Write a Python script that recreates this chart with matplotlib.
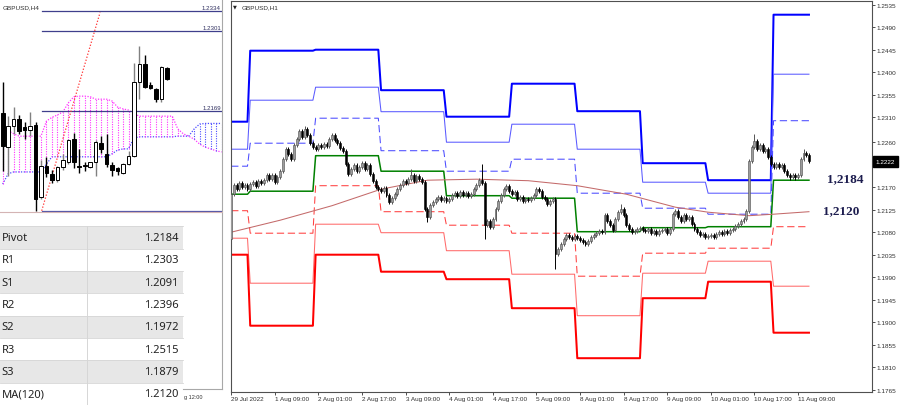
import matplotlib
matplotlib.use('Agg')
import matplotlib.pyplot as plt
import matplotlib.transforms as mtransforms
from matplotlib.patches import Rectangle
import numpy as np

# ---------------- data : GBPUSD H1 (main chart) ----------------
closes = [
    1.2156, 1.2174, 1.2166, 1.2178, 1.2170, 1.2174, 1.2166,
    1.2176, 1.2180, 1.2172, 1.2182, 1.2178, 1.2184, 1.2194, 1.2186, 1.2194, 1.2180,
    1.2190, 1.2202, 1.2226, 1.2246, 1.2236, 1.2226, 1.2254, 1.2266, 1.2282, 1.2270,
    1.2286, 1.2274, 1.2258, 1.2250,
    1.2246, 1.2254, 1.2250, 1.2256, 1.2252, 1.2266, 1.2274, 1.2264, 1.2258, 1.2248,
    1.2242, 1.2216, 1.2196, 1.2206, 1.2214, 1.2202, 1.2210, 1.2218, 1.2206, 1.2214,
    1.2196, 1.2182, 1.2170, 1.2166,
    1.2162, 1.2168, 1.2154, 1.2140, 1.2148, 1.2156, 1.2166, 1.2174, 1.2182, 1.2178,
    1.2186, 1.2194, 1.2182, 1.2192, 1.2186, 1.2180, 1.2126, 1.2110, 1.2134, 1.2140,
    1.2146, 1.2150, 1.2144, 1.2148,
    1.2142, 1.2146, 1.2154, 1.2158, 1.2152, 1.2160, 1.2154, 1.2158, 1.2152, 1.2156,
    1.2166, 1.2174, 1.2184, 1.2178, 1.2094, 1.2102, 1.2090, 1.2106, 1.2126, 1.2142,
    1.2154, 1.2166, 1.2172, 1.2162,
    1.2156, 1.2160, 1.2146, 1.2150, 1.2142, 1.2146, 1.2144, 1.2148, 1.2154, 1.2166,
    1.2162, 1.2150, 1.2146, 1.2136, 1.2142, 1.2146, 1.2036, 1.2046, 1.2056, 1.2066,
    1.2074, 1.2070, 1.2066, 1.2072,
    1.2068, 1.2064, 1.2060, 1.2056, 1.2062, 1.2070, 1.2074, 1.2078, 1.2082, 1.2080,
    1.2114, 1.2102, 1.2094, 1.2084, 1.2106, 1.2120, 1.2126, 1.2114, 1.2094, 1.2086,
    1.2080, 1.2082, 1.2086, 1.2088,
    1.2084, 1.2082, 1.2086, 1.2078, 1.2082, 1.2076, 1.2082, 1.2084, 1.2086, 1.2078,
    1.2086, 1.2116, 1.2122, 1.2110, 1.2102, 1.2114, 1.2106, 1.2110, 1.2096, 1.2086,
    1.2080, 1.2074, 1.2076, 1.2070,
    1.2072, 1.2074, 1.2070, 1.2076, 1.2080, 1.2076, 1.2082, 1.2078, 1.2084, 1.2086,
    1.2092, 1.2096, 1.2102, 1.2106, 1.2122, 1.2222, 1.2250, 1.2262, 1.2246, 1.2254,
    1.2242, 1.2246, 1.2230, 1.2216,
    1.2210, 1.2216, 1.2210, 1.2214, 1.2202, 1.2194, 1.2190, 1.2194, 1.2190, 1.2194,
    1.2226, 1.2238, 1.2234, 1.2222,
]
first_open = 1.2066
high_marks = {27: 1.2292, 66: 1.2206, 92: 1.2216, 143: 1.2136, 192: 1.2276, 210: 1.2246}
low_marks = {0: 1.2066, 58: 1.2136, 72: 1.2100, 93: 1.2066, 119: 1.2006, 205: 1.2184, 207: 1.2184}
default_wick = 0.0004

# daily pivot levels (first bar index of each day)
day_start = [0, 7, 31, 55, 79, 103, 127, 151, 175, 199]
R3 = [1.2301, 1.2443, 1.2445, 1.2364, 1.2311, 1.2377, 1.2322, 1.2218, 1.2184, 1.2515]
R2 = [1.2246, 1.2344, 1.2370, 1.2321, 1.2260, 1.2296, 1.2246, 1.2180, 1.2158, 1.2396]
R1 = [1.2212, 1.2258, 1.2308, 1.2243, 1.2202, 1.2226, 1.2158, 1.2128, 1.2116, 1.2303]
PP = [1.2156, 1.2162, 1.2233, 1.2202, 1.2153, 1.2148, 1.2081, 1.2089, 1.2091, 1.2184]
S1 = [1.2123, 1.2078, 1.2173, 1.2121, 1.2094, 1.2078, 1.1992, 1.2038, 1.2048, 1.2091]
S2 = [1.2068, 1.1978, 1.2096, 1.2079, 1.2043, 1.1996, 1.1913, 1.1998, 1.2022, 1.1972]
S3 = [1.2035, 1.1893, 1.2035, 1.2001, 1.1986, 1.1928, 1.1828, 1.1948, 1.1981, 1.1879]

ma_idx = [0, 18, 37, 55, 72, 90, 109, 127, 145, 163, 175, 190, 199, 212]
ma_val = [1.2080, 1.2104, 1.2133, 1.2166, 1.2184, 1.2186, 1.2183, 1.2173,
          1.2156, 1.2130, 1.2120, 1.2113, 1.2116, 1.2121]

xtick_idx = [0, 16, 32, 48, 64, 80, 96, 112, 128, 144, 160, 176, 192, 208]
xtick_labels = ['29 Jul 2022', '1 Aug 09:00', '2 Aug 01:00', '2 Aug 17:00',
                '3 Aug 09:00', '4 Aug 01:00', '4 Aug 17:00', '5 Aug 09:00',
                '8 Aug 01:00', '8 Aug 17:00', '9 Aug 09:00', '10 Aug 01:00',
                '10 Aug 17:00', '11 Aug 09:00']
ytick_vals = [1.2535, 1.2490, 1.2445, 1.2400, 1.2355, 1.2310, 1.2260, 1.2215,
              1.2170, 1.2125, 1.2080, 1.2035, 1.1990, 1.1945, 1.1900, 1.1855,
              1.1810, 1.1765]
last_price_label = '1.2222'
pivot_note = ('1,2184', 1.2183)
ma_note = ('1,2120', 1.2119)

# ---------------- data : GBPUSD H4 (small chart) ----------------
h4_open = [1.2167, 1.2110, 1.2144, 1.2157, 1.2143, 1.2139, 1.2146, 1.2027, 1.2079, 1.2066,
           1.2055, 1.2077, 1.2086, 1.2123, 1.2079, 1.2081, 1.2077, 1.2085, 1.2117, 1.2099,
           1.2081, 1.2075, 1.2068, 1.2082, 1.2096, 1.2218, 1.2247, 1.2212, 1.2206, 1.2190, 1.2240]
h4_high = [1.2217, 1.2162, 1.2176, 1.2163, 1.2151, 1.2168, 1.2151, 1.2088, 1.2093, 1.2072,
           1.2079, 1.2099, 1.2124, 1.2133, 1.2107, 1.2086, 1.2086, 1.2121, 1.2129, 1.2132,
           1.2085, 1.2077, 1.2084, 1.2104, 1.2249, 1.2277, 1.2262, 1.2218, 1.2207, 1.2244, 1.2242]
h4_low = [1.2071, 1.2063, 1.2132, 1.2132, 1.2123, 1.2129, 1.2005, 1.2024, 1.2060, 1.2051,
          1.2053, 1.2073, 1.2082, 1.2075, 1.2068, 1.2071, 1.2075, 1.2063, 1.2101, 1.2077,
          1.2063, 1.2064, 1.2066, 1.2081, 1.2093, 1.2189, 1.2207, 1.2206, 1.2184, 1.2184, 1.2221]
h4_close = [1.2112, 1.2145, 1.2157, 1.2137, 1.2139, 1.2144, 1.2024, 1.2079, 1.2068, 1.2055,
            1.2077, 1.2088, 1.2122, 1.2085, 1.2077, 1.2078, 1.2085, 1.2118, 1.2107, 1.2082,
            1.2072, 1.2070, 1.2082, 1.2096, 1.2218, 1.2247, 1.2209, 1.2207, 1.2189, 1.2242, 1.2222]
span_a = [1.2140, 1.2137, 1.2132, 1.2128, 1.2128, 1.2128, 1.2128, 1.2128, 1.2153, 1.2159,
          1.2163, 1.2168, 1.2183, 1.2193, 1.2194, 1.2194, 1.2193, 1.2189, 1.2189, 1.2189,
          1.2186, 1.2176, 1.2173, 1.2171, 1.2165, 1.2161, 1.2161, 1.2161, 1.2161, 1.2161,
          1.2161, 1.2161, 1.2140, 1.2132, 1.2128, 1.2123, 1.2115, 1.2110, 1.2107, 1.2104, 1.2102]
span_b = [1.2049, 1.2066, 1.2069, 1.2069, 1.2069, 1.2069, 1.2069, 1.2069, 1.2082, 1.2094,
          1.2094, 1.2094, 1.2094, 1.2094, 1.2094, 1.2094, 1.2094, 1.2094, 1.2094, 1.2094,
          1.2099, 1.2105, 1.2107, 1.2107, 1.2125, 1.2127, 1.2127, 1.2127, 1.2127, 1.2127,
          1.2127, 1.2127, 1.2128, 1.2128, 1.2128, 1.2140, 1.2148, 1.2149, 1.2149, 1.2149, 1.2149]
h4_levels = [1.2334, 1.2301, 1.2169]
h4_level_labels = ['1.2334', '1.2301', '1.2169']
h4_swing_low = 1.2005
h4_line_start = 7.13
fib_x = [7.13, 17.8]
fib_y = [1.2005, 1.2332]

# ---------------- data : table ----------------
table_labels = ['Pivot', 'R1', 'S1', 'R2', 'S2', 'R3', 'S3', 'MA(120)']
table_values = ['1.2184', '1.2303', '1.2091', '1.2396', '1.1972', '1.2515', '1.1879', '1.2120']

# ================= drawing =================
W, H = 900, 406
fig = plt.figure(figsize=(W / 100, H / 100), dpi=100)
fig.patch.set_facecolor('white')
SMALL = 'Liberation Sans'


def fax(x0, y0, x1, y1):
    return [x0 / W, 1 - y1 / H, (x1 - x0) / W, (y1 - y0) / H]


def draw_candles(ax, x, o, h, l, c, width, up_face, up_edge, up_wick, dn, lw_body, lw_wick, min_h):
    x = np.asarray(x, float); o = np.asarray(o); h = np.asarray(h)
    l = np.asarray(l); c = np.asarray(c)
    up = c >= o
    ax.vlines(x[up], l[up], h[up], color=up_wick, lw=lw_wick, zorder=4)
    ax.vlines(x[~up], l[~up], h[~up], color=dn, lw=lw_wick, zorder=4)
    bottoms = np.minimum(o, c)
    heights = np.maximum(np.abs(c - o), min_h)
    ax.bar(x[up], heights[up], bottom=bottoms[up], width=width, color=up_face,
           edgecolor=up_edge, lw=lw_body, zorder=5)
    ax.bar(x[~up], heights[~up], bottom=bottoms[~up], width=width, color=dn,
           edgecolor=dn, lw=lw_body, zorder=5)


# ---- background / layout layer in pixel coordinates ----
bg = fig.add_axes([0, 0, 1, 1])
bg.set_xlim(0, W)
bg.set_ylim(H, 0)
bg.axis('off')

# left window borders
bg.plot([222.3, 222.3], [0, 390], color='#a8a8a8', lw=0.8)
bg.plot([183, 222.3], [390, 390], color='#a8a8a8', lw=0.8)
bg.plot([0, 222.3], [213, 213], color='#d4b4b4', lw=0.8)
bg.text(184, 397.5, 'g 12:00', fontsize=4.0, family=SMALL, color='#333333', va='center')
bg.text(2.5, 7.3, 'GBPUSD,H4', fontsize=4.6, family=SMALL, color='#303030', va='center')

# table
top, row_h, tab_w = 227.3, 22.34, 183
for k, (lab, val) in enumerate(zip(table_labels, table_values)):
    y0 = top + k * row_h
    bg.add_patch(Rectangle((0, y0), tab_w, row_h,
                           facecolor='#e7e7e7' if k % 2 == 0 else 'white',
                           edgecolor='none', zorder=1))
    bg.plot([0, tab_w], [y0, y0], color='#d6d6d6', lw=0.6, zorder=2)
    bg.text(1.8, y0 + row_h / 2, lab, fontsize=8.0, family='Noto Sans', color='#222222',
            va='center', ha='left', zorder=3)
    bg.text(178.5, y0 + row_h / 2, val, fontsize=8.0, family='Noto Sans', color='#222222',
            va='center', ha='right', zorder=3)
bg.plot([87, 87], [top, H], color='#d6d6d6', lw=0.7, zorder=2)

# main window title
bg.text(235.3, 7.0, '\u25BC', fontsize=3.6, family='DejaVu Sans', color='#202020',
        va='center', ha='center')
bg.text(241.5, 7.3, 'GBPUSD,H1', fontsize=4.6, family=SMALL, color='#303030', va='center')

# ---- left H4 chart ----
axL = fig.add_axes(fax(0, 0, 222, 213))
axL.set_facecolor('none')
axL.set_xlim(-0.494, 40.09)
axL.set_ylim(1.20029, 1.23543)
for s in axL.spines.values():
    s.set_visible(False)
axL.set_xticks([]); axL.set_yticks([])

ci = np.arange(len(span_a))
sa = np.array(span_a); sb = np.array(span_b)
axL.plot(ci, sa, color='#ff33ff', lw=0.9, ls=(0, (1, 1.2)), zorder=1)
axL.plot(ci, sb, color='#4c4cff', lw=0.9, ls=(0, (1, 1.2)), zorder=1)
for i in ci:
    col = '#ff33ff' if sa[i] >= sb[i] else '#4c4cff'
    axL.vlines(i, min(sa[i], sb[i]), max(sa[i], sb[i]), color=col, lw=0.8,
               ls=(0, (1, 1.2)), zorder=1)

for lv, lab in zip(h4_levels, h4_level_labels):
    axL.plot([h4_line_start, 40.09], [lv, lv], color='#3f3f8c', lw=0.9, zorder=2)
    axL.annotate(lab, (39.9, lv), xytext=(0, 1.0), textcoords='offset points',
                 ha='right', va='bottom', fontsize=4.4, family=SMALL, color='#303060')
axL.plot([h4_line_start, 40.09], [h4_swing_low, h4_swing_low], color='#5a5aa8', lw=0.9, zorder=2)
axL.plot(fib_x, fib_y, color='#ff3030', lw=0.9, ls=(0, (1, 1.5)), zorder=2)

draw_candles(axL, np.arange(len(h4_close)), h4_open, h4_high, h4_low, h4_close,
             width=0.66, up_face='white', up_edge='black', up_wick='#808080', dn='black',
             lw_body=0.7, lw_wick=1.0, min_h=0.00012)

# ---- main H1 chart ----
ax = fig.add_axes(fax(231, 2, 872, 393))
ax.set_facecolor('none')
ax.set_xlim(-0.05, 235.13)
ax.set_ylim(1.17604, 1.25424)
for s in ax.spines.values():
    s.set_color('#505050')
    s.set_linewidth(0.8)

n = len(closes)
idx = np.arange(n)


def per_bar(levels):
    out = np.empty(n)
    for k, s in enumerate(day_start):
        e = day_start[k + 1] if k + 1 < len(day_start) else n
        out[s:e] = levels[k]
    return out


ax.plot(idx, per_bar(R3), color='#0000ff', lw=1.45, zorder=2)
ax.plot(idx, per_bar(R2), color='#5a5aff', lw=0.75, zorder=2)
ax.plot(idx, per_bar(R1), color='#4b4bff', lw=0.75, ls=(0, (7, 3.5)), zorder=2)
ax.plot(idx, per_bar(PP), color='#008000', lw=1.1, zorder=2)
ax.plot(idx, per_bar(S1), color='#ff4040', lw=0.75, ls=(0, (7, 3.5)), zorder=2)
ax.plot(idx, per_bar(S2), color='#ff6a6a', lw=0.75, zorder=2)
ax.plot(idx, per_bar(S3), color='#ff0000', lw=1.45, zorder=2)
ax.plot(ma_idx, ma_val, color='#c46a6a', lw=0.75, zorder=3)

c = np.array(closes)
o = np.concatenate([[first_open], c[:-1]])
hi = np.maximum(o, c) + default_wick
lo = np.minimum(o, c) - default_wick
for k, v in high_marks.items():
    hi[k] = v
for k, v in low_marks.items():
    lo[k] = v
draw_candles(ax, idx, o, hi, lo, c, width=0.7, up_face='#9c9c9c', up_edge='#4a4a4a',
             up_wick='#555555', dn='black', lw_body=0.4, lw_wick=0.7, min_h=0.0001)

ax.text((845 - 230.9) / 2.7255, pivot_note[1], pivot_note[0], ha='center', va='baseline',
        fontsize=9.5, fontweight='bold', family='Liberation Serif', color='#1c1c4e', zorder=8)
ax.text((841 - 230.9) / 2.7255, ma_note[1], ma_note[0], ha='center', va='baseline',
        fontsize=9.5, fontweight='bold', family='Liberation Serif', color='#1c1c4e', zorder=8)

ax.yaxis.tick_right()
ax.set_yticks(ytick_vals)
ax.set_yticklabels([f'{v:.4f}' for v in ytick_vals])
ax.tick_params(axis='y', length=2.2, width=0.6, pad=0.8, labelsize=4.6,
               colors='#303030')
ax.set_xticks(xtick_idx)
ax.set_xticklabels(xtick_labels)
ax.tick_params(axis='x', length=2.0, width=0.6, pad=0.9, labelsize=4.6, colors='#303030')
for lbl in ax.get_xticklabels():
    lbl.set_ha('left')
    lbl.set_fontfamily(SMALL)
for lbl in ax.get_yticklabels():
    lbl.set_fontfamily(SMALL)

trans = mtransforms.blended_transform_factory(ax.transAxes, ax.transData)
ax.text(1.0055, closes[-1], last_price_label, transform=trans, ha='left', va='center',
        fontsize=4.6, family=SMALL, color='white', clip_on=False, zorder=20,
        bbox=dict(boxstyle='square,pad=0.45', fc='black', ec='black'))

fig.savefig('out.png', dpi=100, facecolor='white')
